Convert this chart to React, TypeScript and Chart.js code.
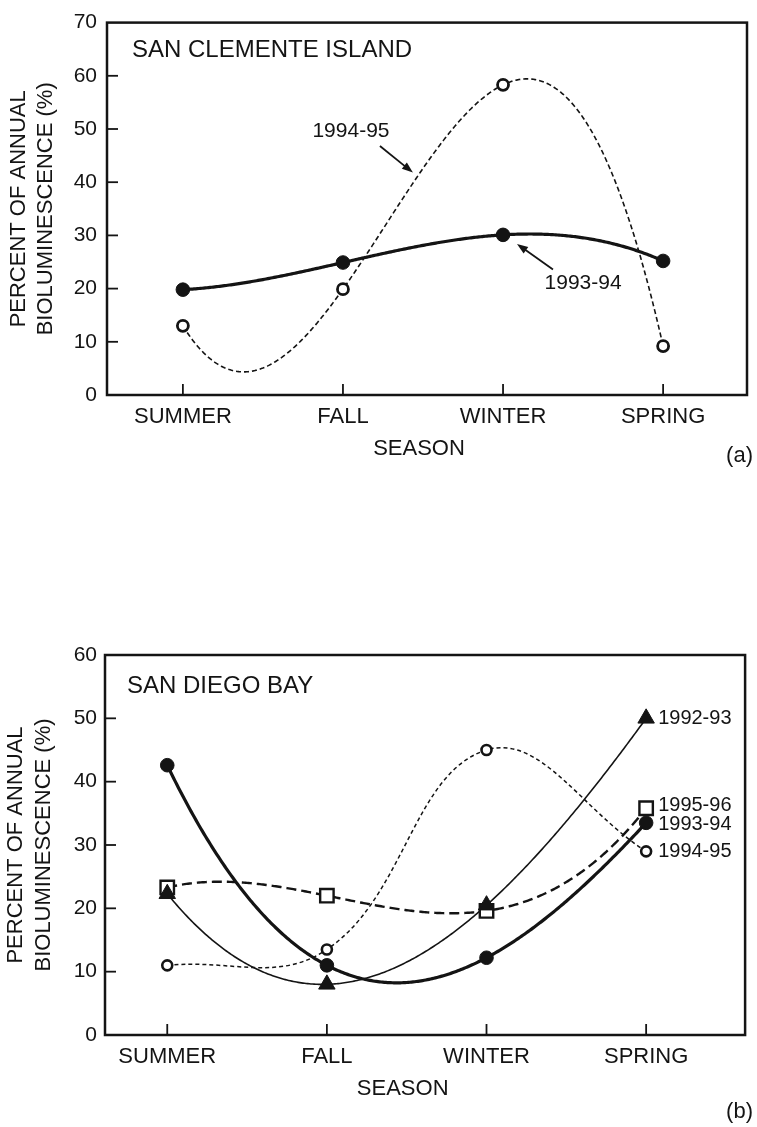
import React, { useEffect, useRef } from 'react';
import { Chart, registerables } from 'chart.js';

Chart.register(...registerables);

// ---------- data ----------
const seasons = ['SUMMER', 'FALL', 'WINTER', 'SPRING'];
const yTicksA = [0, 10, 20, 30, 40, 50, 60, 70];
const yTicksB = [0, 10, 20, 30, 40, 50, 60];

// (a) San Clemente Island
const sanClemente_1993_94 = [19.8, 24.9, 30.1, 25.2];
const sanClemente_1994_95 = [13.0, 19.9, 58.3, 9.2];

// (b) San Diego Bay
const sanDiego_1992_93 = [22.3, 8.0, 20.5, 50.0];
const sanDiego_1993_94 = [42.6, 11.0, 12.2, 33.5];
const sanDiego_1994_95 = [11.0, 13.5, 45.0, 29.0];
const sanDiego_1995_96 = [23.3, 22.0, 19.6, 35.8];

const FONT = '"Liberation Sans", Arial, Helvetica, sans-serif';
const INK = '#141414';

const toXY = (vals: number[]) => vals.map((v, i) => ({ x: i, y: v }));

function lagrange(xs: number[], ys: number[], x: number) {
  let s = 0;
  for (let i = 0; i < xs.length; i++) {
    let t = ys[i];
    for (let j = 0; j < xs.length; j++) {
      if (j !== i) t *= (x - xs[j]) / (xs[i] - xs[j]);
    }
    s += t;
  }
  return s;
}

const framePlugin = {
  id: 'frameTicks',
  beforeDatasetsDraw(chart: any) {
    const { ctx, chartArea: a, scales } = chart;
    ctx.save();
    ctx.strokeStyle = INK;
    ctx.lineWidth = 2.5;
    ctx.setLineDash([]);
    ctx.strokeRect(a.left, a.top, a.right - a.left, a.bottom - a.top);
    ctx.lineWidth = 1.8;
    const ys = scales.y;
    ys.ticks.forEach((t: any) => {
      if (t.value === ys.min || t.value === ys.max) return;
      const py = ys.getPixelForValue(t.value);
      ctx.beginPath();
      ctx.moveTo(a.left, py);
      ctx.lineTo(a.left + 11, py);
      ctx.stroke();
    });
    const xs = scales.x;
    xs.ticks.forEach((t: any) => {
      const px = xs.getPixelForValue(t.value);
      ctx.beginPath();
      ctx.moveTo(px, a.bottom);
      ctx.lineTo(px, a.bottom - 11);
      ctx.stroke();
    });
    ctx.restore();
  },
};

const curvePlugin = {
  id: 'polyCurves',
  beforeDatasetsDraw(chart: any) {
    const { ctx, chartArea: a, scales } = chart;
    chart.data.datasets.forEach((ds: any, i: number) => {
      if (ds.curve !== 'poly' || !chart.isDatasetVisible(i)) return;
      const xs = ds.data.map((p: any) => p.x);
      const yv = ds.data.map((p: any) => p.y);
      const x0 = xs[0];
      const x1 = xs[xs.length - 1];
      ctx.save();
      ctx.beginPath();
      ctx.rect(a.left, a.top, a.right - a.left, a.bottom - a.top);
      ctx.clip();
      ctx.beginPath();
      const n = 300;
      for (let k = 0; k <= n; k++) {
        const xv = x0 + ((x1 - x0) * k) / n;
        const px = scales.x.getPixelForValue(xv);
        const py = scales.y.getPixelForValue(lagrange(xs, yv, xv));
        if (k === 0) ctx.moveTo(px, py);
        else ctx.lineTo(px, py);
      }
      ctx.strokeStyle = ds.borderColor;
      ctx.lineWidth = ds.borderWidth;
      ctx.setLineDash(ds.borderDash || []);
      ctx.lineJoin = 'round';
      ctx.stroke();
      ctx.restore();
    });
  },
};

function arrow(ctx: CanvasRenderingContext2D, x1: number, y1: number, x2: number, y2: number) {
  const ang = Math.atan2(y2 - y1, x2 - x1);
  const L = 11;
  const W = 4;
  ctx.beginPath();
  ctx.moveTo(x1, y1);
  ctx.lineTo(x2 - Math.cos(ang) * L * 0.8, y2 - Math.sin(ang) * L * 0.8);
  ctx.stroke();
  ctx.beginPath();
  ctx.moveTo(x2, y2);
  ctx.lineTo(x2 - Math.cos(ang) * L - Math.sin(ang) * W, y2 - Math.sin(ang) * L + Math.cos(ang) * W);
  ctx.lineTo(x2 - Math.cos(ang) * L + Math.sin(ang) * W, y2 - Math.sin(ang) * L - Math.cos(ang) * W);
  ctx.closePath();
  ctx.fill();
}

type Decor = {
  panelTitle: string;
  titleDx: number;
  titleDy: number;
  letter: string;
  letterDy: number;
  notes: { text: string; x: number; y: number }[];
  arrows: { from: [number, number]; to: [number, number] }[];
  endLabels: { text: string; y: number }[];
};

function makeDecorPlugin(d: Decor) {
  return {
    id: 'decor',
    afterDatasetsDraw(chart: any) {
      const { ctx, chartArea: a, scales } = chart;
      const X = (v: number) => scales.x.getPixelForValue(v);
      const Y = (v: number) => scales.y.getPixelForValue(v);
      ctx.save();
      ctx.fillStyle = INK;
      ctx.strokeStyle = INK;
      ctx.textBaseline = 'middle';
      // panel title
      ctx.font = `24px ${FONT}`;
      ctx.textAlign = 'left';
      ctx.fillText(d.panelTitle, a.left + d.titleDx, a.top + d.titleDy);
      // x-axis title
      ctx.font = `22px ${FONT}`;
      ctx.textAlign = 'center';
      ctx.fillText('SEASON', X(1.5) - 4, a.bottom + 54);
      // panel letter
      ctx.textAlign = 'right';
      ctx.fillText(d.letter, chart.width - 4, a.bottom + d.letterDy);
      // annotations
      ctx.font = `21px ${FONT}`;
      ctx.textAlign = 'center';
      d.notes.forEach((n) => ctx.fillText(n.text, X(n.x), Y(n.y)));
      ctx.lineWidth = 1.8;
      d.arrows.forEach((ar) => arrow(ctx, X(ar.from[0]), Y(ar.from[1]), X(ar.to[0]), Y(ar.to[1])));
      ctx.font = `20px ${FONT}`;
      ctx.textAlign = 'left';
      d.endLabels.forEach((l) => ctx.fillText(l.text, X(3) + 12, Y(l.y)));
      ctx.restore();
    },
  };
}

function buildOptions(p: {
  xmin: number;
  xmax: number;
  ymax: number;
  yTicks: number[];
  padTop: number;
  padRight: number;
  yWidth: number;
  xHeight: number;
  yPad: number;
  yTitlePad: number;
}) {
  return {
    responsive: false,
    animation: false,
    events: [],
    layout: { padding: { left: 0, top: p.padTop, right: p.padRight, bottom: 0 } },
    plugins: { legend: { display: false }, tooltip: { enabled: false } },
    scales: {
      x: {
        type: 'linear',
        min: p.xmin,
        max: p.xmax,
        grid: { display: false, drawTicks: false },
        border: { display: false },
        afterBuildTicks: (s: any) => {
          s.ticks = seasons.map((_, i) => ({ value: i }));
        },
        afterFit: (s: any) => {
          s.height = p.xHeight;
        },
        ticks: {
          autoSkip: false,
          maxRotation: 0,
          padding: 9,
          color: INK,
          font: { family: FONT, size: 22, lineHeight: 1.2 },
          callback: (v: any) => seasons[v] ?? '',
        },
      },
      y: {
        type: 'linear',
        min: 0,
        max: p.ymax,
        grid: { display: false, drawTicks: false },
        border: { display: false },
        afterBuildTicks: (s: any) => {
          s.ticks = p.yTicks.map((v) => ({ value: v }));
        },
        afterFit: (s: any) => {
          s.width = p.yWidth;
        },
        ticks: {
          padding: p.yPad,
          color: INK,
          font: { family: FONT, size: 21 },
          callback: (v: any) => String(v),
        },
        title: {
          display: true,
          text: ['PERCENT OF ANNUAL', 'BIOLUMINESCENCE (%)'],
          color: INK,
          font: { family: FONT, size: 22, lineHeight: 1.25 },
          padding: { top: p.yTitlePad, bottom: 0 },
        },
      },
    },
  };
}

function ChartCanvas({ config, width, height, top }: any) {
  const ref = useRef<HTMLCanvasElement | null>(null);
  useEffect(() => {
    if (!ref.current) return;
    const c = new Chart(ref.current, config());
    return () => c.destroy();
  }, []);
  return (
    <canvas
      ref={ref}
      width={width}
      height={height}
      style={{ position: 'absolute', left: 0, top, width, height, display: 'block' }}
    />
  );
}

// Chart.js draws the first dataset on top, so markers that sit above others come first.
const configA = () => ({
  type: 'line',
  data: {
    datasets: [
      {
        label: '1993-94',
        data: toXY(sanClemente_1993_94),
        curve: 'poly',
        showLine: false,
        borderColor: INK,
        borderWidth: 3.2,
        pointStyle: 'circle',
        pointRadius: 6.8,
        pointBorderWidth: 1,
        pointBackgroundColor: INK,
        pointBorderColor: INK,
      },
      {
        label: '1994-95',
        data: toXY(sanClemente_1994_95),
        curve: 'poly',
        showLine: false,
        borderColor: INK,
        borderWidth: 1.6,
        borderDash: [5, 3],
        pointStyle: 'circle',
        pointRadius: 5.5,
        pointBorderWidth: 2.8,
        pointBackgroundColor: '#ffffff',
        pointBorderColor: INK,
      },
    ],
  },
  options: buildOptions({
    xmin: -0.474,
    xmax: 3.524,
    ymax: 70,
    yTicks: yTicksA,
    padTop: 17,
    padRight: 10,
    yWidth: 107,
    xHeight: 85,
    yPad: 10,
    yTitlePad: 4.75,
  }),
  plugins: [
    framePlugin,
    curvePlugin,
    makeDecorPlugin({
      panelTitle: 'SAN CLEMENTE ISLAND',
      titleDx: 25,
      titleDy: 28,
      letter: '(a)',
      letterDy: 61,
      notes: [
        { text: '1994-95', x: 1.05, y: 49.5 },
        { text: '1993-94', x: 2.5, y: 21.0 },
      ],
      arrows: [
        { from: [1.231, 46.8], to: [1.437, 41.8] },
        { from: [2.312, 23.6], to: [2.087, 28.4] },
      ],
      endLabels: [],
    }),
  ],
});

const configB = () => ({
  type: 'line',
  data: {
    datasets: [
      {
        label: '1992-93',
        data: toXY(sanDiego_1992_93),
        curve: 'poly',
        showLine: false,
        borderColor: INK,
        borderWidth: 1.6,
        pointStyle: 'triangle',
        pointRadius: 9.5,
        pointBorderWidth: 1,
        pointBackgroundColor: INK,
        pointBorderColor: INK,
      },
      {
        label: '1993-94',
        data: toXY(sanDiego_1993_94),
        curve: 'poly',
        showLine: false,
        borderColor: INK,
        borderWidth: 3.2,
        pointStyle: 'circle',
        pointRadius: 6.8,
        pointBorderWidth: 1,
        pointBackgroundColor: INK,
        pointBorderColor: INK,
      },
      {
        label: '1995-96',
        data: toXY(sanDiego_1995_96),
        curve: 'poly',
        showLine: false,
        borderColor: INK,
        borderWidth: 2.4,
        borderDash: [10, 5],
        pointStyle: 'rect',
        pointRadius: 9.5,
        pointBorderWidth: 2.4,
        pointBackgroundColor: '#ffffff',
        pointBorderColor: INK,
      },
      {
        label: '1994-95',
        data: toXY(sanDiego_1994_95),
        showLine: true,
        tension: 0.4,
        borderColor: INK,
        borderWidth: 1.5,
        borderDash: [4, 3],
        pointStyle: 'circle',
        pointRadius: 5,
        pointBorderWidth: 2.6,
        pointBackgroundColor: '#ffffff',
        pointBorderColor: INK,
      },
    ],
  },
  options: buildOptions({
    xmin: -0.39,
    xmax: 3.62,
    ymax: 60,
    yTicks: yTicksB,
    padTop: 35,
    padRight: 11,
    yWidth: 105,
    xHeight: 92,
    yPad: 8,
    yTitlePad: 2.25,
  }),
  plugins: [
    framePlugin,
    curvePlugin,
    makeDecorPlugin({
      panelTitle: 'SAN DIEGO BAY',
      titleDx: 22,
      titleDy: 31,
      letter: '(b)',
      letterDy: 77,
      notes: [],
      arrows: [],
      endLabels: [
        { text: '1992-93', y: 49.9 },
        { text: '1995-96', y: 36.2 },
        { text: '1993-94', y: 33.2 },
        { text: '1994-95', y: 28.9 },
      ],
    }),
  ],
});

export default function App() {
  return (
    <div style={{ position: 'absolute', left: 0, top: 0, width: 757, height: 1127, background: '#ffffff' }}>
      <ChartCanvas config={configA} width={757} height={480} top={0} />
      <ChartCanvas config={configB} width={757} height={507} top={620} />
    </div>
  );
}
